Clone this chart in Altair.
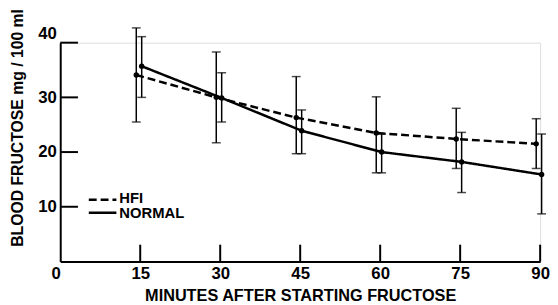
import altair as alt
import pandas as pd

times = [15, 30, 45, 60, 75, 90]
hfi_mean = [34.1, 30.0, 26.3, 23.5, 22.4, 21.5]
hfi_hi = [42.7, 38.3, 33.8, 30.1, 28.0, 26.1]
hfi_lo = [25.5, 21.7, 19.7, 16.2, 17.0, 17.0]
normal_mean = [35.7, 29.9, 23.9, 20.0, 18.2, 15.9]
normal_hi = [41.1, 34.5, 27.7, 23.3, 23.6, 23.3]
normal_lo = [30.0, 25.5, 19.7, 16.2, 12.6, 8.7]

series_names = ["HFI", "NORMAL"]
x_ticks = [15, 30, 45, 60, 75, 90]
x_labels = [0, 15, 30, 45, 60, 75, 90]
y_ticks = [10, 20, 30, 40]

W, H = 487, 222
FONT = "Liberation Sans"

hfi = pd.DataFrame({"t": times, "m": hfi_mean, "lo": hfi_lo, "hi": hfi_hi, "s": series_names[0]})
nor = pd.DataFrame({"t": times, "m": normal_mean, "lo": normal_lo, "hi": normal_hi, "s": series_names[1]})

xs = alt.Scale(domain=[0, 90], nice=False, zero=False)
ys = alt.Scale(domain=[0, 40], nice=False)

xaxis = alt.Axis(values=x_labels, tickSize=0, labelPadding=4, grid=False,
                 domainColor="black", domainWidth=2, labelFont=FONT, labelFontSize=17,
                 labelFontWeight="bold", labelColor="black",
                 labelAlign=alt.condition("datum.value == 0", alt.value("right"), alt.value("center")),
                 title="MINUTES AFTER STARTING FRUCTOSE", titleFont=FONT, titleFontSize=16.5,
                 titleFontWeight="bold", titleColor="black", titleY=35, titleBaseline="middle")
yaxis = alt.Axis(values=y_ticks, tickSize=0, labelPadding=4, grid=False,
                 domainColor="black", domainWidth=2, labelFont=FONT, labelFontSize=17,
                 labelFontWeight="bold", labelColor="black",
                 labelBaseline=alt.condition("datum.value == 40", alt.value("bottom"), alt.value("middle")),
                 title="BLOOD FRUCTOSE mg / 100 ml", titleFont=FONT, titleFontSize=16,
                 titleFontWeight="bold", titleColor="black", titleX=-43, titleY=86,
                 titleAlign="center", titleBaseline="middle", titleAngle=270)

dashes = [[8, 4], [1, 0]]
dash = alt.Scale(domain=series_names, range=dashes)

layers = []
for df, off in [(hfi, -4), (nor, 1.5)]:
    base = alt.Chart(df)
    layers.append(base.mark_line(color="black", strokeWidth=2.5, xOffset=off).encode(
        x=alt.X("t:Q", scale=xs, axis=xaxis),
        y=alt.Y("m:Q", scale=ys, axis=yaxis),
        strokeDash=alt.StrokeDash("s:N", scale=dash, legend=None),
    ))
    layers.append(base.mark_rule(color="black", strokeWidth=1.5, xOffset=off).encode(
        x="t:Q", y="lo:Q", y2="hi:Q"))
    layers.append(base.mark_tick(color="black", thickness=1.5, size=9, orient="horizontal", xOffset=off).encode(
        x="t:Q", y="lo:Q"))
    layers.append(base.mark_tick(color="black", thickness=1.5, size=9, orient="horizontal", xOffset=off).encode(
        x="t:Q", y="hi:Q"))
    layers.append(base.mark_circle(color="black", size=30, opacity=1, xOffset=off).encode(
        x="t:Q", y="m:Q"))

# inward ticks
layers.append(alt.Chart(pd.DataFrame({"v": x_ticks})).mark_rule(color="black", strokeWidth=2).encode(
    x=alt.X("v:Q", scale=xs), y=alt.value(H), y2=alt.value(H - 17)))
layers.append(alt.Chart(pd.DataFrame({"v": y_ticks})).mark_rule(color="black", strokeWidth=2).encode(
    y=alt.Y("v:Q", scale=ys), x=alt.value(0), x2=alt.value(18)))

# manual legend
sym_y = [159.3, 172.6]
txt_y = [162.5, 177.6]
for i, name in enumerate(series_names):
    leg = alt.Chart(pd.DataFrame({"s": [name]}))
    layers.append(leg.mark_rule(color="black", strokeWidth=2.5, strokeDash=dashes[i]).encode(
        x=alt.value(29), x2=alt.value(57), y=alt.value(sym_y[i])))
    layers.append(leg.mark_text(align="left", baseline="alphabetic", font=FONT, fontSize=15,
                                fontWeight="bold", color="black").encode(
        x=alt.value(60), y=alt.value(txt_y[i]), text="s:N"))

chart = alt.layer(*layers).properties(
    width=W, height=H,
    autosize=alt.AutoSizeParams(type="none"),
    padding={"left": 53, "top": 33, "right": 10, "bottom": 42},
).configure_view(stroke=None).configure(background="white")

chart.save("out.html", embed_options={"renderer": "svg", "actions": False})
